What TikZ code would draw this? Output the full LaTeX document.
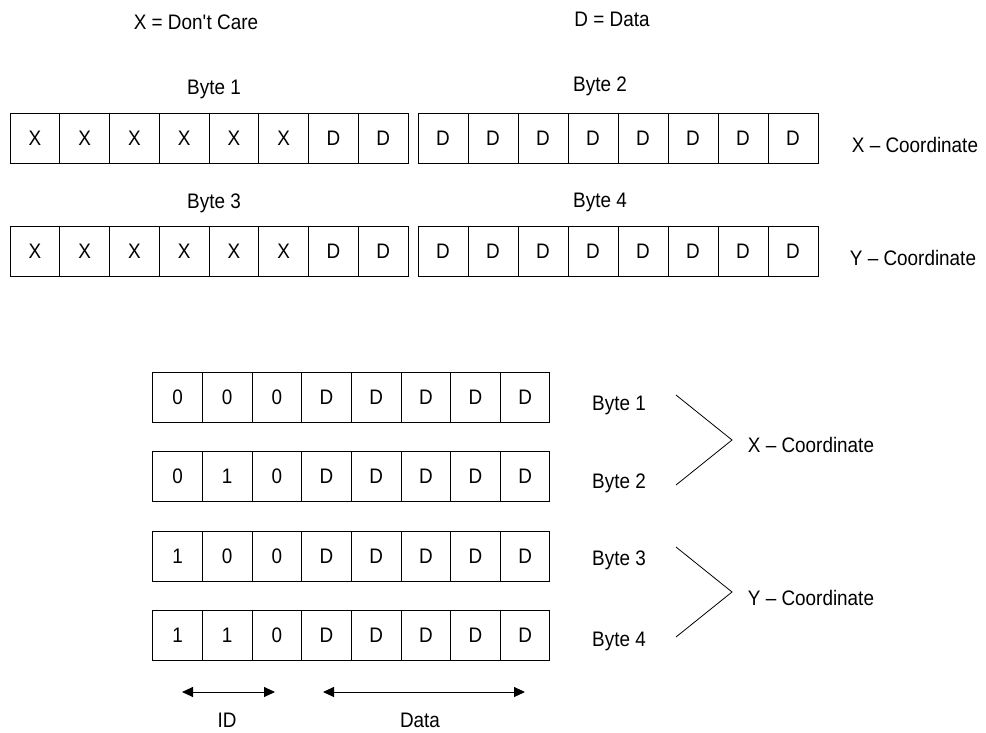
\documentclass[tikz,border=0pt]{standalone}
\usepackage{fontspec}
\setmainfont{Liberation Sans}[FakeStretch=0.9]
\usetikzlibrary{arrows.meta, positioning}

% one row of bit cells: name, left x, centre y, cell width, contents
\newcommand{\bitrow}[5]{%
  \foreach \b [count=\i] in {#5}
    \node[bitcell=#4pt] (#1-\i) at ({#2+#4*(\i-0.5)}, #3) {\b};%
}

\begin{document}
\begin{tikzpicture}[
    x=1pt, y=-1pt,
    every node/.style={font=\fontsize{21}{24}\selectfont, inner sep=0pt},
    bitcell/.style={draw, line width=1pt, minimum width=#1, minimum height=50pt},
    bitcell/.default=50pt,
    bracket/.style={line width=0.8pt},
    span/.style={{Triangle[length=11pt, width=10pt]}-{Triangle[length=11pt, width=10pt]}, line width=0.9pt}
]
    \useasboundingbox (0,0) rectangle (986,732);

    % legend
    \node (dontcare) at (196,22) {X = Don\textquotesingle t Care};
    \node (datakey) at (612,19) {D = Data};

    % serial format, two bytes per coordinate
    \node (b1) at (214,89) {Byte 1};
    \node (b2) at (600,86) {Byte 2};
    \node (b3) at (214,203) {Byte 3};
    \node (b4) at (600,202) {Byte 4};

    \bitrow{ba}{10}{138}{49.75}{X,X,X,X,X,X,D,D}
    \bitrow{bb}{418}{138}{50}{D,D,D,D,D,D,D,D}
    \bitrow{bc}{10}{251}{49.75}{X,X,X,X,X,X,D,D}
    \bitrow{bd}{418}{251}{50}{D,D,D,D,D,D,D,D}

    \node (xco) at (915,145) {X -- Coordinate};
    \node (yco) at (913,258) {Y -- Coordinate};

    % parallel format, ID bits in front
    \bitrow{pa}{152.7}{397}{49.66}{0,0,0,D,D,D,D,D}
    \bitrow{pb}{152.7}{476}{49.66}{0,1,0,D,D,D,D,D}
    \bitrow{pc}{152.7}{556}{49.66}{1,0,0,D,D,D,D,D}
    \bitrow{pd}{152.7}{635}{49.66}{1,1,0,D,D,D,D,D}

    \node (p1) at (619,405) {Byte 1};
    \node (p2) at (619,483) {Byte 2};
    \node (p3) at (619,560) {Byte 3};
    \node (p4) at (619,641) {Byte 4};

    \node (pxco) at (811,445) {X -- Coordinate};
    \node (pyco) at (811,598) {Y -- Coordinate};

    \coordinate (xtop) at (676,395);
    \coordinate (xtip) at (732,440);
    \coordinate (xbot) at (676,485);
    \coordinate (ytop) at (676,547);
    \coordinate (ytip) at (732,592);
    \coordinate (ybot) at (676,637);
    \draw[bracket] (xtop) -- (xtip) -- (xbot);
    \draw[bracket] (ytop) -- (ytip) -- (ybot);

    % field widths
    \coordinate (idl) at (182,692);
    \coordinate (idr) at (275,692);
    \coordinate (datal) at (323,692);
    \coordinate (datar) at (525,692);
    \draw[span] (idl) -- (idr);
    \draw[span] (datal) -- (datar);
    \node (idlbl) at (227,720) {ID};
    \node (datalbl) at (420,720) {Data};
\end{tikzpicture}
\end{document}
